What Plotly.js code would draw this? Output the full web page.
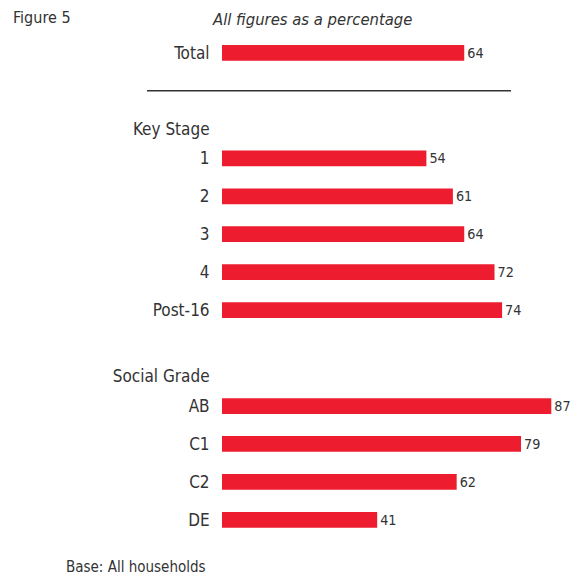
<!DOCTYPE html>
<html>
<head>
<meta charset="utf-8">
<script src="https://cdn.plot.ly/plotly-3.0.1.min.js"></script>
<style>html,body{margin:0;padding:0;background:#fff;}#chart{width:575px;height:577px;}</style>
</head>
<body>
<div id="chart"></div>
<script>
// ---- data ----
const totalLabels = ['Total'];
const totalValues = [64];
const groupTitles = ['Key Stage', 'Social Grade'];
const keyStageLabels = ['1', '2', '3', '4', 'Post-16'];
const keyStageValues = [54, 61, 64, 72, 74];
const socialGradeLabels = ['AB', 'C1', 'C2', 'DE'];
const socialGradeValues = [87, 79, 62, 41];

// ---- layout of rows (row units) ----
const FONT = '"Liberation Sans Narrow", "Arial Narrow", "DejaVu Sans Condensed", sans-serif';
const TXT = '#333333';
const groups = [
  {title: groupTitles[0], labels: keyStageLabels, values: keyStageValues},
  {title: groupTitles[1], labels: socialGradeLabels, values: socialGradeValues}
];
const ys = [], xs = [], tv = [], tt = [], txt = [];
let pos = 0;
totalLabels.forEach((l, i) => { ys.push(pos); xs.push(totalValues[i]); tv.push(pos); tt.push(l); txt.push(String(totalValues[i])); pos += 1; });
const ruleY = pos; // separator line
let headingPos = ruleY + 1;
groups.forEach((g, gi) => {
  tv.push(headingPos); tt.push(g.title);
  let p = headingPos + 0.78;
  g.labels.forEach((l, i) => {
    ys.push(p); xs.push(g.values[i]); tv.push(p); tt.push(l); txt.push(String(g.values[i]));
    p += 1;
  });
  headingPos = p - 1 + 1.75;
});

const trace = {
  type: 'bar', orientation: 'h', x: xs, y: ys, width: 0.415,
  marker: {color: '#ED1C2E'},
  text: txt, textposition: 'outside', cliponaxis: false,
  textfont: {family: FONT, size: 14.5, color: TXT},
  hoverinfo: 'skip'
};

const layout = {
  width: 575, height: 577,
  margin: {l: 222, r: 1, t: 15, b: 31},
  paper_bgcolor: '#fff', plot_bgcolor: '#fff',
  showlegend: false,
  font: {family: FONT, color: TXT},
  xaxis: {range: [0, 93], showgrid: false, zeroline: false, showticklabels: false, showline: false, ticks: ''},
  yaxis: {range: [13, -1], showgrid: false, zeroline: false, showline: false,
    tickvals: tv, ticktext: tt, ticks: 'outside', ticklen: 8, tickcolor: 'rgba(0,0,0,0)',
    tickfont: {family: FONT, size: 17, color: TXT}},
  shapes: [{type: 'line', xref: 'paper', yref: 'y', x0: -0.213, x1: 0.821, y0: ruleY, y1: ruleY,
    line: {color: '#333', width: 1.5}}],
  annotations: [
    {text: 'Figure 5', xref: 'paper', yref: 'paper', x: (11-222)/352, y: 1 + (15-18)/531, xanchor: 'left', yanchor: 'middle', showarrow: false, font: {family: FONT, size: 16, color: TXT}},
    {text: '<i>All figures as a percentage</i>', xref: 'paper', yref: 'paper', x: (312-222)/352, y: 1 + (15-20)/531, xanchor: 'center', yanchor: 'middle', showarrow: false, font: {family: FONT, size: 16.5, color: TXT}},
    {text: 'Base: All households', xref: 'paper', yref: 'paper', x: (64-222)/352, y: -(567-546)/531, xanchor: 'left', yanchor: 'middle', showarrow: false, font: {family: FONT, size: 15, color: TXT}}
  ]
};

Plotly.newPlot('chart', [trace], layout, {displayModeBar: false, staticPlot: true});
</script>
</body>
</html>
